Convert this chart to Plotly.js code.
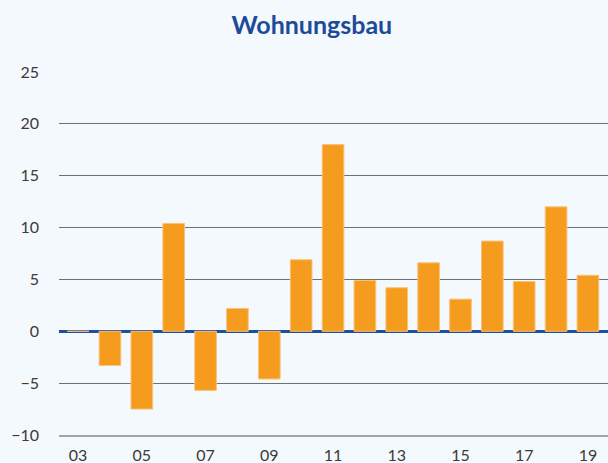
<!DOCTYPE html>
<html>
<head>
<meta charset="utf-8">
<script src="https://cdn.plot.ly/plotly-3.0.1.min.js"></script>
<style>
  html, body { margin: 0; padding: 0; background: #f4f9fd; }
  #chart { width: 608px; height: 463px; }
</style>
</head>
<body>
<div id="chart"></div>
<script>
const years = [2003, 2004, 2005, 2006, 2007, 2008, 2009, 2010, 2011, 2012, 2013, 2014, 2015, 2016, 2017, 2018, 2019];
const values = [0, -3.3, -7.5, 10.4, -5.7, 2.2, -4.6, 6.9, 18.0, 4.9, 4.2, 6.6, 3.1, 8.7, 4.8, 12.0, 5.4];
const tickYears = [2003, 2005, 2007, 2009, 2011, 2013, 2015, 2017, 2019];
const tickLabels = ['03', '05', '07', '09', '11', '13', '15', '17', '19'];
const yTicks = [-10, -5, 0, 5, 10, 15, 20, 25];

const trace = {
  type: 'bar',
  x: years,
  y: values,
  width: 0.68,
  marker: { color: '#f59c1e', line: { color: '#f9c27a', width: 1 } },
  hoverinfo: 'x+y'
};

const layout = {
  width: 608,
  height: 463,
  paper_bgcolor: '#f4f9fd',
  plot_bgcolor: '#f4f9fd',
  margin: { l: 59, r: 0, t: 72, b: 28 },
  showlegend: false,
  title: {
    text: '<b>Wohnungsbau</b>',
    font: { family: 'Lato, sans-serif', size: 25, color: '#1d4b9a' },
    x: 0.513, xanchor: 'center', xref: 'container',
    y: 0.945, yanchor: 'middle', yref: 'container'
  },
  xaxis: {
    range: [2002.4, 2019.63],
    tickvals: tickYears,
    ticktext: tickLabels,
    showgrid: false,
    zeroline: false,
    showline: true,
    linecolor: '#a3a3a3',
    linewidth: 2,
    ticks: '',
    ticklabelstandoff: 5,
    tickfont: { family: 'Lato, sans-serif', size: 16, color: '#3a3a3a' },
    fixedrange: true
  },
  yaxis: {
    range: [-10, 25],
    tickvals: yTicks,
    showgrid: true,
    gridcolor: '#707070',
    gridwidth: 1,
    zeroline: true,
    zerolinecolor: '#1f4e9c',
    zerolinewidth: 3,
    showline: false,
    ticks: '',
    ticklabelstandoff: 19,
    tickfont: { family: 'Lato, sans-serif', size: 16, color: '#3a3a3a' },
    fixedrange: true
  },
  bargap: 0.32
};

Plotly.newPlot('chart', [trace], layout, { displayModeBar: false, staticPlot: true });
</script>
</body>
</html>
